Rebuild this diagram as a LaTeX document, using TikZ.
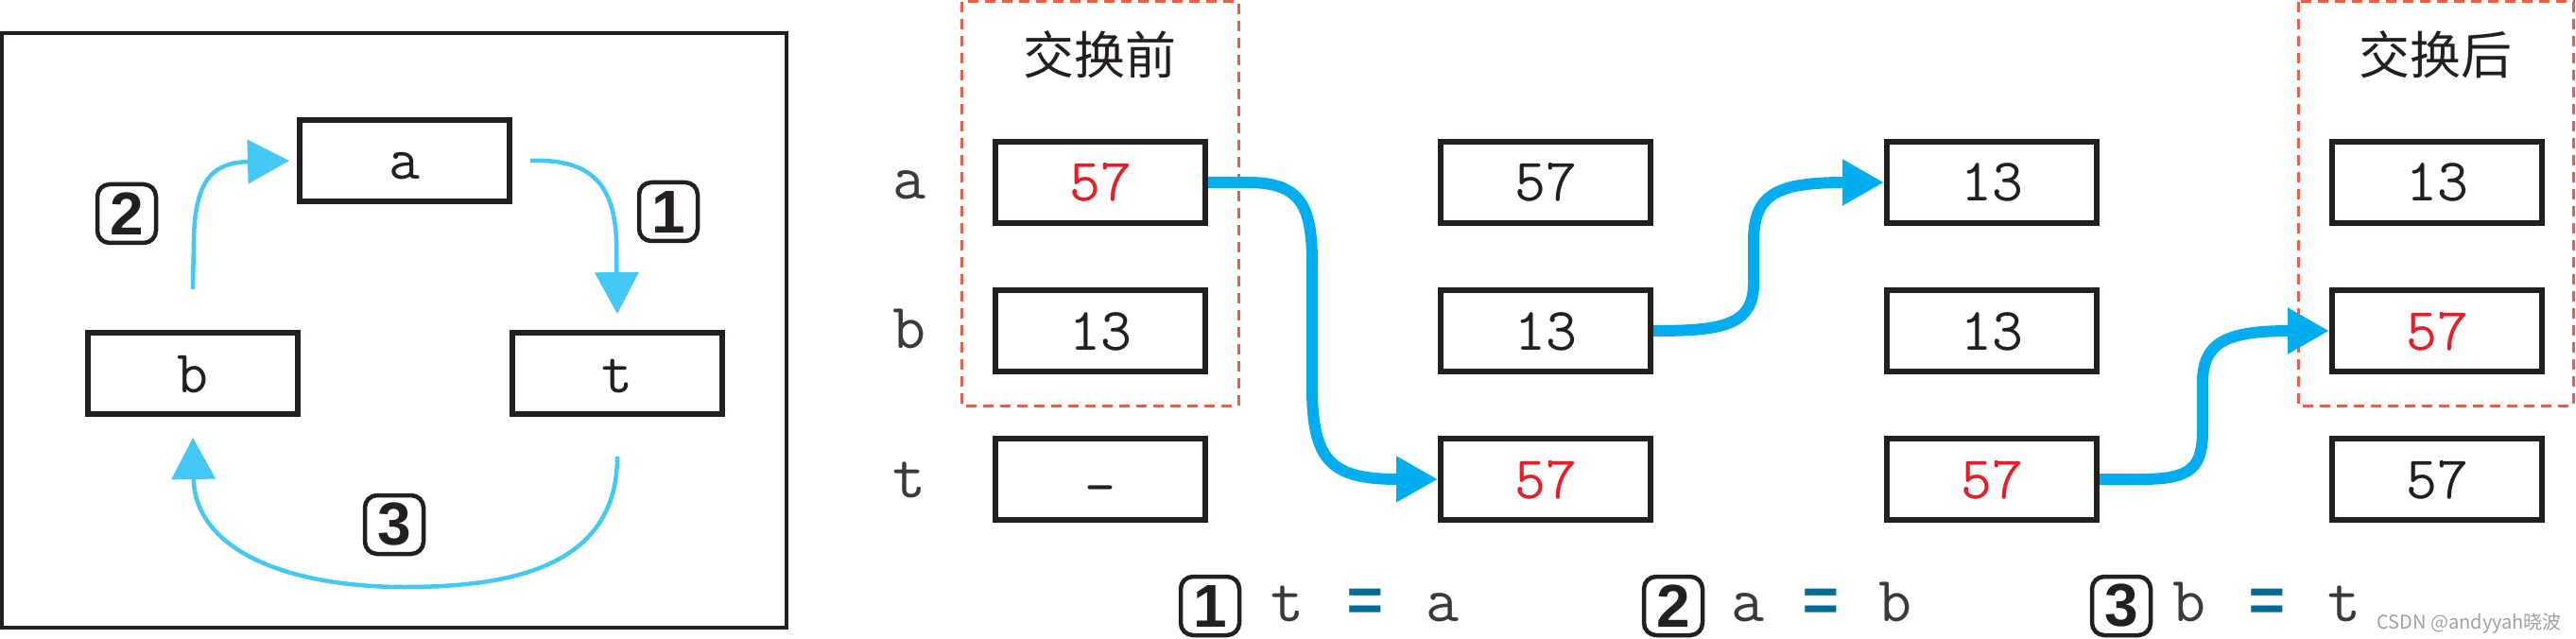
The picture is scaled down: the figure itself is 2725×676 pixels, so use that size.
\documentclass[tikz,border=0pt]{standalone}
\usepackage{fontspec}
\newfontfamily\eqfont{Liberation Mono}
\newfontfamily\cjk{Noto Sans CJK SC}
\newfontfamily\badgefont{Liberation Sans}
\usetikzlibrary{arrows.meta}
\definecolor{ink}{HTML}{231F20}
\definecolor{lbl}{HTML}{3A3A3A}
\definecolor{valred}{HTML}{E3202A}
\definecolor{cyanA}{HTML}{00AEEF}
\definecolor{lblue}{HTML}{45C8F3}
\definecolor{dashred}{HTML}{E8604A}
\definecolor{eqc}{HTML}{006B95}
\definecolor{wm}{HTML}{A0A0A0}
\begin{document}
\begin{tikzpicture}[x=1pt,y=-1pt,
  cell/.style={draw=ink, line width=6pt, minimum width=222pt, minimum height=86pt,
    inner sep=0pt, text height=40pt, text depth=0pt,
    font=\ttfamily\fontsize{64}{64}\selectfont, text=ink},
  red/.style={text=valred},
  rowlbl/.style={anchor=base, inner sep=0pt, font=\ttfamily\fontsize{68}{68}\selectfont, text=lbl},
  fchar/.style={anchor=base, inner sep=0pt, font=\ttfamily\fontsize{68}{68}\selectfont, text=lbl},
  feq/.style={anchor=base, inner sep=0pt, font=\eqfont\bfseries\fontsize{66}{66}\selectfont, text=eqc},
  badge/.style={draw=ink, line width=4.5pt, rounded corners=13pt, minimum width=62pt,
    minimum height=62pt, inner sep=0pt, text=ink,
    font=\badgefont\bfseries\fontsize{64}{64}\selectfont},
  title/.style={inner sep=0pt, font=\cjk\fontsize{54}{54}\selectfont, text=ink},
  dashbox/.style={draw=dashred, line width=3pt, dash pattern=on 11pt off 7pt},
  frame/.style={draw=ink, line width=4.5pt},
  larrow/.style={draw=lblue, line width=4.5pt, -{Triangle[length=44pt,width=46pt]}},
  rarrow/.style={draw=cyanA, line width=12pt, -{Triangle[length=44pt,width=46pt]}}
]
\useasboundingbox (0,0) rectangle (2725,676);

% ---------- left panel ----------
\draw[frame] (2,35) rectangle (832,664);
\node[cell] (la) at (428,170) {a};
\node[cell] (lb) at (204,395) {b};
\node[cell] (lt) at (653,395) {t};

\coordinate (l1s) at (561,170);
\coordinate (l1e) at (653,332);
\coordinate (l2s) at (204,306);
\coordinate (l2e) at (306,170);
\coordinate (l3s) at (653,483);
\coordinate (l3e) at (204,463);

\draw[larrow] (l1s) .. controls (620,168) and (650,190) .. (652,255) -- (l1e);
\draw[larrow] (l2s) -- (205,255) .. controls (206,190) and (225,172) .. (l2e);
\draw[larrow] (l3s) .. controls (653,600) and (540,621) .. (428,621)
                    .. controls (300,621) and (206,580) .. (l3e);

\node[badge] (lb1) at (707,224) {1};
\node[badge] (lb2) at (134,226) {2};
\node[badge] (lb3) at (417,555) {3};

% ---------- right panel ----------
\draw[dashbox] (1017,2) rectangle (1310,429);
\draw[dashbox] (2431,2) rectangle (2722,429);
\node[title] (t1) at (1163,58) {交换前};
\node[title] (t2) at (2576,58) {交换后};

\node[rowlbl] (ra) at (962,211) {a};
\node[rowlbl] (rb) at (962,368) {b};
\node[rowlbl] (rt) at (962,526) {t};

\node[cell,red] (c1a) at (1164,193) {57};
\node[cell]     (c1b) at (1164,350) {13};
\node[cell]     (c1t) at (1164,507) {\raisebox{-8pt}{—}};

\node[cell]     (c2a) at (1635,193) {57};
\node[cell]     (c2b) at (1635,350) {13};
\node[cell,red] (c2t) at (1635,507) {57};

\node[cell]     (c3a) at (2107,193) {13};
\node[cell]     (c3b) at (2107,350) {13};
\node[cell,red] (c3t) at (2107,507) {57};

\node[cell]     (c4a) at (2578,193) {13};
\node[cell,red] (c4b) at (2578,350) {57};
\node[cell]     (c4t) at (2578,507) {57};

\draw[rarrow] (c1a.east) -- (1320,193) .. controls (1378,193) and (1388,220) .. (1388,280)
              -- (1388,410) .. controls (1388,490) and (1410,507) .. (c2t.west);
\draw[rarrow] (c2b.east) .. controls (1820,350) and (1855,345) .. (1855,300)
              -- (1855,255) .. controls (1855,205) and (1880,193) .. (c3a.west);
\draw[rarrow] (c3t.east) -- (2265,507) .. controls (2318,507) and (2330,495) .. (2330,455)
              -- (2330,405) .. controls (2330,362) and (2355,350) .. (c4b.west);

% ---------- formulas ----------
\node[badge] (fb1) at (1280,641) {1};
\node[fchar] (f1a) at (1362,657) {t};
\node[feq]   (f1b) at (1444,657) {=};
\node[fchar] (f1c) at (1526,657) {a};

\node[badge] (fb2) at (1770,641) {2};
\node[fchar] (f2a) at (1849,657) {a};
\node[feq]   (f2b) at (1926,657) {=};
\node[fchar] (f2c) at (2005,657) {b};

\node[badge] (fb3) at (2244,641) {3};
\node[fchar] (f3a) at (2316,657) {b};
\node[feq]   (f3b) at (2398,657) {=};
\node[fchar] (f3c) at (2480,657) {t};

\node[anchor=base east, inner sep=0pt, text=wm, font=\cjk\fontsize{20}{20}\selectfont] (wmk) at (2710,665) {CSDN @andyyah晓波};
\end{tikzpicture}
\end{document}
